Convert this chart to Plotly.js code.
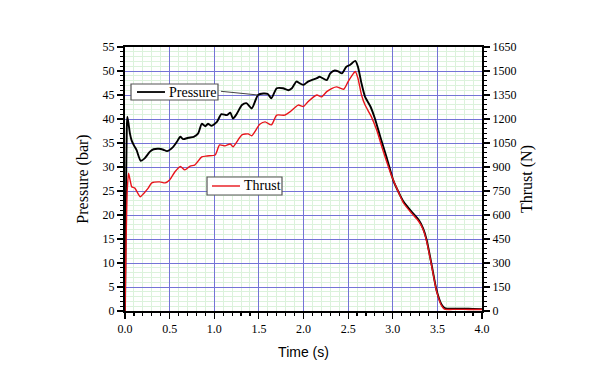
<!DOCTYPE html>
<html>
<head>
<meta charset="utf-8">
<script src="https://cdn.plot.ly/plotly-3.0.1.min.js"></script>
<style>html,body{margin:0;padding:0;background:#fff}#chart{width:600px;height:375px}</style>
</head>
<body>
<div id="chart"></div>
<script>
// Pressure (bar) vs time (s)
const pressureTime = [0,0.01,0.02,0.026,0.04,0.055,0.075,0.1,0.13,0.176,0.22,0.28,0.32,0.38,0.43,0.47,0.54,0.58,0.62,0.65,0.71,0.77,0.82,0.86,0.90,0.93,0.97,1.03,1.08,1.14,1.18,1.21,1.25,1.31,1.36,1.42,1.49,1.55,1.60,1.64,1.70,1.77,1.83,1.87,1.92,1.96,2.0,2.05,2.09,2.15,2.18,2.26,2.30,2.35,2.39,2.43,2.48,2.52,2.58,2.61,2.65,2.69,2.75,2.80,2.86,2.93,3.01,3.08,3.12,3.21,3.29,3.34,3.38,3.44,3.49,3.55,3.59,3.7,3.8,3.9,4.0];
const pressureBar = [0,22,38,40.5,39,37,35.5,34.5,33.5,31.3,31.8,33.2,33.7,33.8,33.6,33.3,34.2,35.2,36.3,35.8,36.1,36.3,37,39,38.5,39,38.6,39.4,41,40.8,41.3,40.1,41,42.9,43.3,42.2,45,45.3,45.2,44.3,46.4,46.4,46,46.4,47.8,47.4,47.1,47.8,48.1,48.5,48.8,48.1,49.5,50.1,49.9,49.5,50.9,51.25,52.1,50.9,47.4,44.6,42.6,40.1,36.3,32.1,27.0,24.2,22.8,20.7,19,17.2,14.8,9.2,4.4,1.25,0.55,0.5,0.5,0.45,0.4];

// Thrust (N) vs time (s)
const thrustTime = [0,0.01,0.025,0.04,0.06,0.075,0.11,0.17,0.21,0.26,0.30,0.39,0.45,0.50,0.56,0.62,0.67,0.73,0.78,0.86,0.92,1.01,1.06,1.12,1.18,1.21,1.31,1.38,1.42,1.51,1.57,1.64,1.70,1.79,1.85,1.94,2.0,2.05,2.15,2.20,2.26,2.32,2.37,2.45,2.50,2.56,2.58,2.61,2.65,2.69,2.76,2.82,2.89,2.99,3.07,3.12,3.21,3.29,3.34,3.38,3.44,3.49,3.55,3.58,3.7,3.8,3.9,4.0];
const thrustN = [0,360,750,861,810,777,768,714,735,768,801,807,801,819,870,903,882,906,912,963,969,975,1038,1032,1044,1026,1101,1107,1095,1167,1182,1163,1224,1224,1245,1287,1278,1308,1350,1338,1371,1392,1401,1386,1434,1485,1497,1455,1350,1287,1215,1131,1005,840,735,675,612,561,510,435,270,126,30,12,10,10,9,9];

const xTickVals = [0,0.5,1.0,1.5,2.0,2.5,3.0,3.5,4.0];
const xTickText = ["0.0","0.5","1.0","1.5","2.0","2.5","3.0","3.5","4.0"];
const seriesNames = ["Pressure","Thrust"];

const serif = "Liberation Serif, Times New Roman, serif";
const sans = "Liberation Sans, Arial, sans-serif";
const majorGrid = "#7474d6";
const minorGrid = "#dcf2dc";
const boxBorder = "#555555";

const traces = [
  {x: thrustTime, y: thrustN, yaxis: "y2", name: seriesNames[1], mode: "lines",
   line: {color: "#e8141b", width: 1.4, shape: "spline", smoothing: 0.6}},
  {x: pressureTime, y: pressureBar, name: seriesNames[0], mode: "lines",
   line: {color: "#000000", width: 1.9, shape: "spline", smoothing: 0.6}}
];

const pIdx = 36, tIdx = 16;

const layout = {
  width: 600, height: 375,
  margin: {l: 125, r: 118, t: 47, b: 64},
  paper_bgcolor: "#ffffff", plot_bgcolor: "#ffffff",
  showlegend: false,
  xaxis: {
    range: [0, 4], tickvals: xTickVals, ticktext: xTickText,
    showgrid: true, gridcolor: majorGrid, gridwidth: 1,
    zeroline: false, showline: true, linecolor: "#000", linewidth: 2, mirror: true,
    ticks: "outside", ticklen: 6, tickwidth: 1.2, tickcolor: "#000",
    minor: {dtick: 0.1, ticklen: 3, tickcolor: "#000", showgrid: true, gridcolor: minorGrid, gridwidth: 1},
    tickfont: {family: serif, size: 12, color: "#000"},
    title: {text: "Time (s)", font: {family: sans, size: 14, color: "#000"}, standoff: 12}
  },
  yaxis: {
    range: [0, 55], dtick: 5,
    showgrid: true, gridcolor: majorGrid, gridwidth: 1,
    zeroline: false, showline: true, linecolor: "#000", linewidth: 2,
    ticks: "outside", ticklen: 6, tickwidth: 1.2, tickcolor: "#000",
    minor: {dtick: 1, ticklen: 3, tickcolor: "#000", showgrid: true, gridcolor: minorGrid, gridwidth: 1},
    tickfont: {family: serif, size: 12, color: "#000"},
    title: {text: "Pressure (bar)", font: {family: serif, size: 16, color: "#000"}, standoff: 10}
  },
  yaxis2: {
    overlaying: "y", side: "right",
    range: [0, 1650], dtick: 150,
    showgrid: false, zeroline: false, showline: true, linecolor: "#000", linewidth: 2,
    ticks: "outside", ticklen: 6, tickwidth: 1.2, tickcolor: "#000",
    minor: {dtick: 30, ticklen: 3, tickcolor: "#000", showgrid: false},
    tickfont: {family: serif, size: 12, color: "#000"},
    title: {text: "Thrust (N)", font: {family: serif, size: 16, color: "#000"}, standoff: 5}
  },
  shapes: [
    {type: "rect", xref: "paper", yref: "paper", x0: 0.0168, x1: 0.2605, y0: 0.7992, y1: 0.8598,
     fillcolor: "#ffffff", line: {color: boxBorder, width: 1.2}, layer: "above"},
    {type: "line", xref: "paper", yref: "paper", x0: 0.0336, x1: 0.1120, y0: 0.8295, y1: 0.8295,
     line: {color: "#000", width: 1.8}, layer: "above"},
    {type: "rect", xref: "paper", yref: "paper", x0: 0.2297, x1: 0.4398, y0: 0.4394, y1: 0.5076,
     fillcolor: "#ffffff", line: {color: boxBorder, width: 1.2}, layer: "above"},
    {type: "line", xref: "paper", yref: "paper", x0: 0.2437, x1: 0.3221, y0: 0.4735, y1: 0.4735,
     line: {color: "#e8141b", width: 1.4}, layer: "above"}
  ],
  annotations: [
    {xref: "paper", yref: "paper", x: 0.1176, y: 0.8295, xanchor: "left", yanchor: "middle",
     text: seriesNames[0], showarrow: false, font: {family: serif, size: 14, color: "#000"}},
    {xref: "paper", yref: "paper", x: 0.3277, y: 0.4735, xanchor: "left", yanchor: "middle",
     text: seriesNames[1], showarrow: false, font: {family: serif, size: 14, color: "#000"}},
    {xref: "x", yref: "y", x: pressureTime[pIdx], y: pressureBar[pIdx], text: " ",
     showarrow: true, arrowhead: 0, arrowwidth: 1, arrowcolor: "#444", ax: -40, ay: -4, standoff: 0},
    {xref: "x", yref: "y2", x: thrustTime[tIdx], y: thrustN[tIdx], text: " ",
     showarrow: true, arrowhead: 0, arrowwidth: 1, arrowcolor: "#444", ax: 22, ay: 15, standoff: 0}
  ]
};

Plotly.newPlot("chart", traces, layout, {displayModeBar: false, staticPlot: true});
</script>
</body>
</html>
